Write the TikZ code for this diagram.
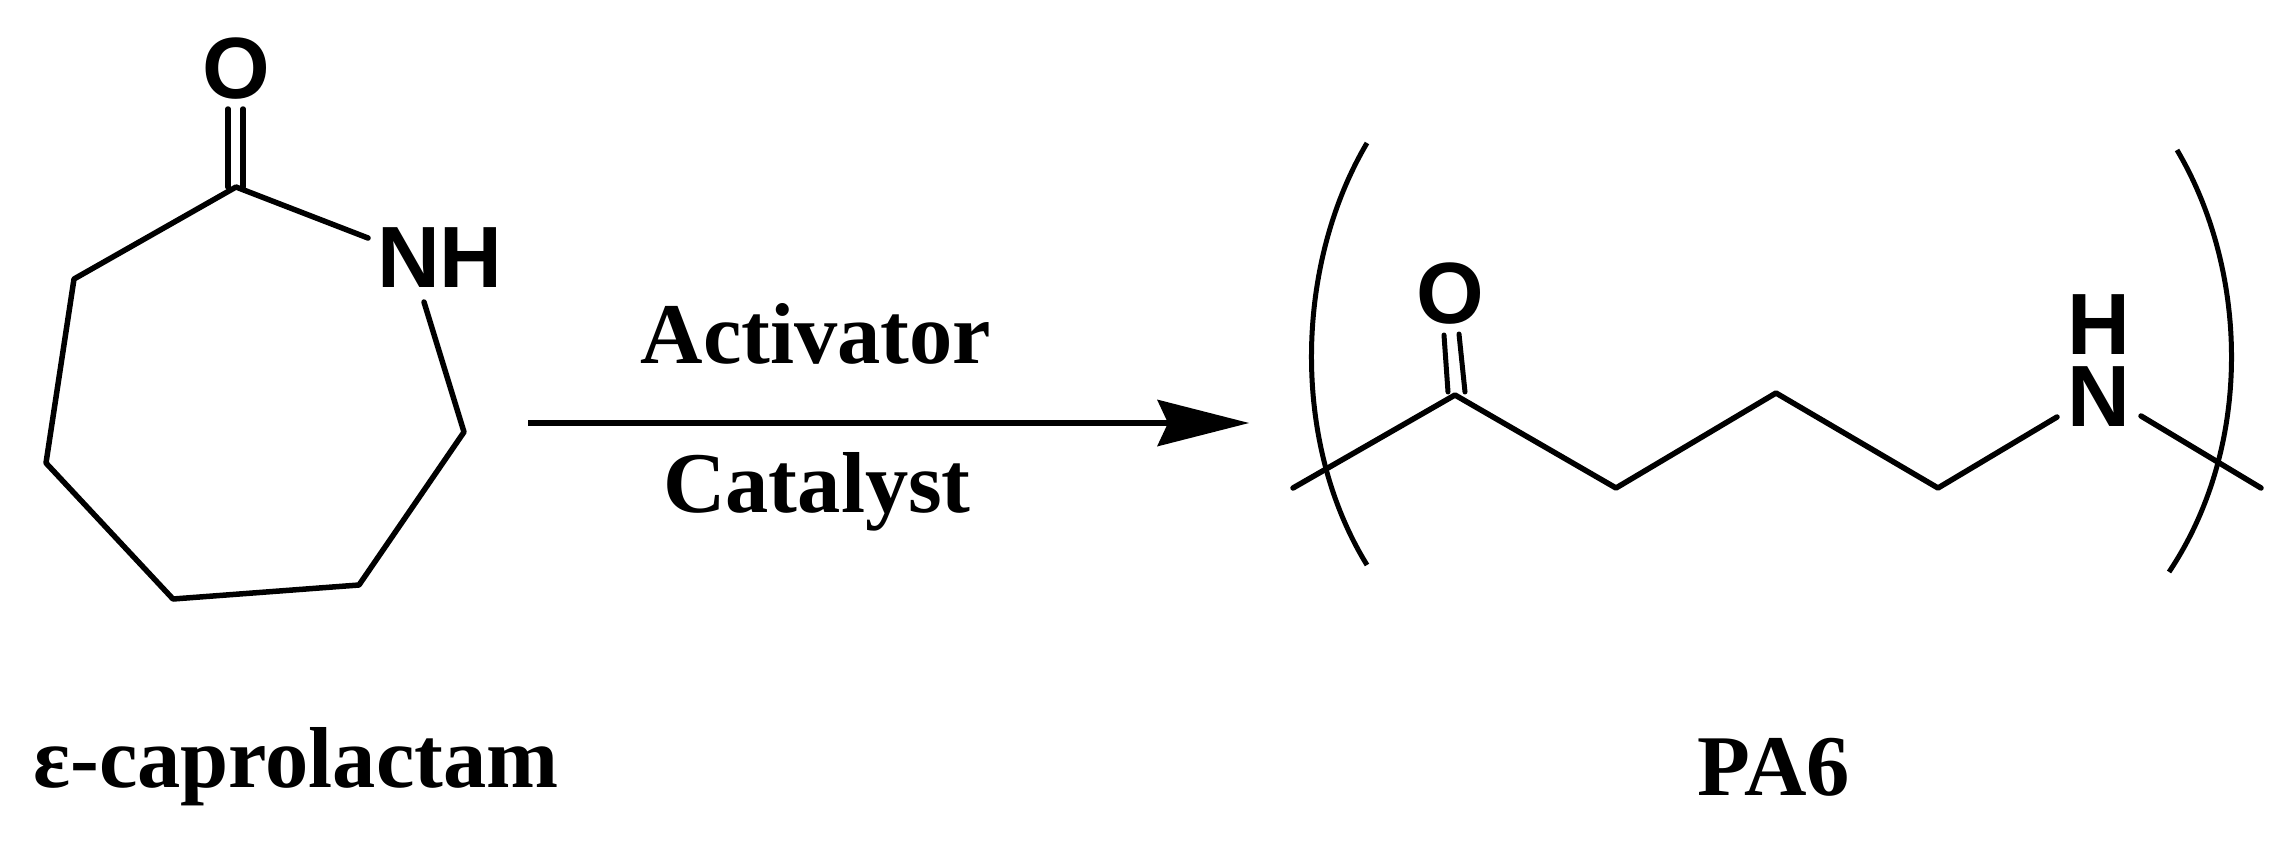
\documentclass[tikz,border=0pt]{standalone}
\usepackage{fontspec}
\setmainfont{Liberation Serif}
\setsansfont{Liberation Sans}
\usetikzlibrary{arrows.meta}
\tikzset{
  bond/.style={black,line width=5.5pt,line join=round,line cap=round},
  thinbond/.style={black,line width=5pt,line cap=round},
  atom/.style={inner sep=0pt,anchor=base,font=\fontsize{87}{87}\sffamily\bfseries},
  title/.style={inner sep=0pt,anchor=base,font=\fontsize{86.5}{87}\rmfamily\bfseries},
}
\begin{document}
\begin{tikzpicture}[x=1pt,y=-1pt]
  \useasboundingbox (0,0) rectangle (2287,841);
  % lactam ring
  \coordinate (c1) at (236,187);
  \coordinate (nup) at (368,238);
  \coordinate (ndown) at (424,302);
  \coordinate (c2) at (464,432);
  \coordinate (c3) at (359,585);
  \coordinate (c4) at (173,599);
  \coordinate (c5) at (46,463);
  \coordinate (c6) at (74,279);
  \coordinate (o1a) at (228,109);
  \coordinate (o1b) at (243,109);
  \coordinate (c1a) at (228,187);
  \coordinate (c1b) at (243,187);
  \draw[bond] (nup) -- (c1) -- (c6) -- (c5) -- (c4) -- (c3) -- (c2) -- (ndown);
  \draw[bond] (o1a) -- (c1a);
  \draw[bond] (o1b) -- (c1b);
  \node[atom] (oxy1) at (236,98) {O};
  \node[atom] (nh) at (440,287) {NH};
  % reaction arrow
  \coordinate (start) at (528,423);
  \coordinate (tip) at (1249,423);
  \draw[line width=6pt,-{Stealth[length=92pt,width=47pt,inset=11pt,line width=0pt]}] (start) -- (tip);
  \node[title] (act) at (816,363) {Activator};
  \node[title] (cat) at (817,512) {Catalyst};
  % polymer chain
  \coordinate (p0) at (1293,488);
  \coordinate (p1) at (1455,395);
  \coordinate (p2) at (1616,488);
  \coordinate (p3) at (1776,393);
  \coordinate (p4) at (1938,488);
  \coordinate (p5) at (2057,417);
  \coordinate (p6) at (2141,416);
  \coordinate (p7) at (2261,488);
  \coordinate (o2a) at (1444,335);
  \coordinate (o2b) at (1459,334);
  \coordinate (p1a) at (1448,392);
  \coordinate (p1b) at (1465,392);
  \draw[bond] (p0) -- (p1) -- (p2) -- (p3) -- (p4) -- (p5);
  \draw[bond] (p6) -- (p7);
  \draw[thinbond] (o2a) -- (p1a);
  \draw[thinbond] (o2b) -- (p1b);
  \node[atom] (oxy2) at (1450,323) {O};
  \node[atom] (hyd) at (2099,354) {H};
  \node[atom] (nit) at (2099,426) {N};
  % brackets
  \coordinate (bl1) at (1367,143);
  \coordinate (bl2) at (1367,565);
  \coordinate (br1) at (2177,150);
  \coordinate (br2) at (2169,572);
  \draw[thinbond,line cap=butt] (bl1) .. controls (1296,263) and (1290,440) .. (bl2);
  \draw[thinbond,line cap=butt] (br1) .. controls (2248,270) and (2254,445) .. (br2);
  % names
  \node[title] (mono) at (296,787) {ε-caprolactam};
  \node[title] (poly) at (1774,795) {PA6};
\end{tikzpicture}
\end{document}
